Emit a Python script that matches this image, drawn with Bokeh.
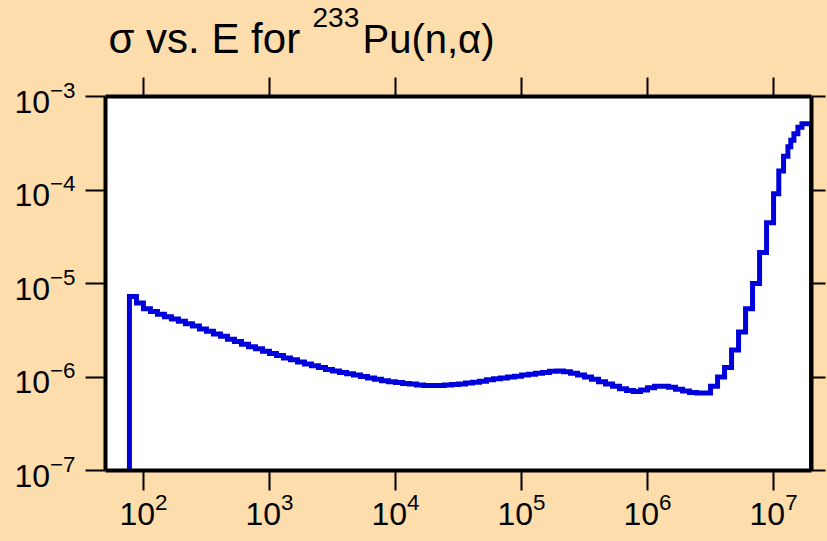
from bokeh.plotting import figure
from bokeh.models import LogAxis, Range1d, ColumnDataSource
from bokeh.layouts import column
from bokeh.embed import file_html
from bokeh.resources import INLINE

# energy bin edges (eV)
energy_edges = [
    77.43, 87.99,
    100.0, 113.65, 129.15, 146.78, 166.81, 189.57, 215.44, 244.84, 278.26,
    316.23, 359.38, 408.42, 464.16, 527.49, 599.48, 681.29, 774.26, 879.92,
    1000.0, 1136.5, 1291.5, 1467.8, 1668.1, 1895.7, 2154.4, 2448.4, 2782.6,
    3162.3, 3593.8, 4084.2, 4641.6, 5274.9, 5994.8, 6812.9, 7742.6, 8799.2,
    1.0e4, 1.1365e4, 1.2915e4, 1.4678e4, 1.6681e4, 1.8957e4, 2.1544e4, 2.4484e4, 2.7826e4,
    3.1623e4, 3.5938e4, 4.0842e4, 4.6416e4, 5.2749e4, 5.9948e4, 6.8129e4, 7.7426e4, 8.7992e4,
    1.0e5, 1.1365e5, 1.2915e5, 1.4678e5, 1.6681e5, 1.8957e5, 2.1544e5, 2.4484e5, 2.7826e5,
    3.1623e5, 3.5938e5, 4.0842e5, 4.6416e5, 5.2749e5, 5.9948e5, 6.8129e5, 7.7426e5, 8.7992e5,
    1.0e6, 1.1365e6, 1.2915e6, 1.4678e6, 1.6681e6, 1.8957e6, 2.1544e6, 2.4484e6, 2.7826e6,
    3.1623e6, 3.5938e6, 4.0842e6, 4.6416e6, 5.2749e6, 5.9948e6, 6.8129e6, 7.7426e6, 8.7992e6,
    1.0e7, 1.1e7, 1.2e7, 1.3e7, 1.37e7, 1.45e7, 1.56e7, 1.68e7, 2.0e7,
]

# cross section per bin (b)
sigma = [
    7.24e-6, 6.17e-6, 5.37e-6, 5.01e-6, 4.68e-6, 4.42e-6, 4.17e-6, 3.94e-6, 3.72e-6, 3.51e-6,
    3.27e-6, 3.09e-6, 2.88e-6, 2.72e-6, 2.54e-6, 2.40e-6, 2.24e-6, 2.11e-6, 2.00e-6, 1.88e-6,
    1.78e-6, 1.70e-6, 1.60e-6, 1.53e-6, 1.45e-6, 1.38e-6, 1.32e-6, 1.26e-6, 1.20e-6, 1.16e-6,
    1.12e-6, 1.08e-6, 1.05e-6, 1.01e-6, 9.77e-7, 9.44e-7, 9.12e-7, 8.91e-7, 8.71e-7, 8.51e-7,
    8.41e-7, 8.22e-7, 8.13e-7, 8.13e-7, 8.13e-7, 8.22e-7, 8.32e-7, 8.41e-7, 8.61e-7, 8.81e-7,
    9.02e-7, 9.33e-7, 9.55e-7, 9.77e-7, 1.00e-6, 1.02e-6, 1.05e-6, 1.07e-6, 1.10e-6, 1.12e-6,
    1.15e-6, 1.16e-6, 1.14e-6, 1.10e-6, 1.05e-6, 1.00e-6, 9.44e-7, 8.91e-7, 8.41e-7, 7.94e-7,
    7.50e-7, 7.16e-7, 7.00e-7, 7.24e-7, 7.67e-7, 7.94e-7, 7.94e-7, 7.76e-7, 7.41e-7, 7.08e-7,
    6.84e-7, 6.76e-7, 6.76e-7, 7.94e-7, 1.00e-6, 1.26e-6, 1.95e-6, 3.02e-6, 5.37e-6, 1.00e-5,
    2.14e-5, 4.47e-5, 9.1e-5, 1.6e-4, 2.3e-4, 2.9e-4, 3.4e-4, 4.0e-4, 4.7e-4, 5.1e-4,
]

x_limits = [50, 2e7]
y_limits = [1e-7, 1e-3]

# title pieces: main text, superscript mass number, reaction
title_pieces = ["σ vs. E for", "233", "Pu(n,α)"]

PEACH = "#fcddab"
BLUE = "#0000dd"
FONT = "Liberation Sans"
W, H = 827, 541
TITLE_H = 74
LEFT, RIGHT = 105, 16

# --- title strip (pixel-like coordinates) ---
t = figure(width=W, height=TITLE_H, x_range=Range1d(LEFT, W - RIGHT), y_range=Range1d(TITLE_H, 0),
           output_backend="svg", toolbar_location=None,
           x_axis_location=None, y_axis_location=None,
           min_border_left=LEFT, min_border_right=RIGHT,
           min_border_top=0, min_border_bottom=0,
           background_fill_color=PEACH, border_fill_color=PEACH, outline_line_color=None)
t.title = None
t.grid.visible = False
title_src = ColumnDataSource(dict(
    text=title_pieces,
    x=[108, 312, 362],
    y=[38, 17, 38],
    size=["42px", "28px", "40px"],
))
t.text(x="x", y="y", text="text", source=title_src, text_font_size="size",
       text_font={"value": FONT}, text_color="black",
       text_align="left", text_baseline="alphabetic")

# --- main chart ---
p = figure(width=W, height=H - TITLE_H, x_axis_type="log", y_axis_type="log",
           x_range=Range1d(*x_limits), y_range=Range1d(*y_limits),
           output_backend="svg", toolbar_location=None,
           min_border_left=LEFT, min_border_right=RIGHT, min_border_top=96 - TITLE_H,
           min_border_bottom=71,
           background_fill_color="white", border_fill_color=PEACH,
           outline_line_color=None)
p.title = None
p.grid.visible = False

# staircase path built from the bin data
floor = y_limits[0] / 10
xs = [energy_edges[0]]
ys = [floor]
for i, v in enumerate(sigma):
    xs += [energy_edges[i], energy_edges[i + 1]]
    ys += [v, v]
xs.append(energy_edges[-1])
ys.append(floor)
p.line(xs, ys, line_color=BLUE, line_width=5, line_join="miter", line_cap="butt")

p.add_layout(LogAxis(), "above")
p.add_layout(LogAxis(), "right")

for ax in p.axis:
    ax.axis_line_width = 4
    ax.axis_line_color = "black"
    ax.major_tick_out = 20
    ax.major_tick_in = 0
    ax.major_tick_line_width = 2
    ax.major_tick_line_color = "black"
    ax.minor_tick_out = 0
    ax.minor_tick_in = 0
    ax.major_label_text_font = FONT
    ax.major_label_text_font_size = "32px"
    ax.major_label_text_color = "black"

for ax in (p.above[0], p.right[0]):
    ax.major_label_text_font_size = "1px"
    ax.major_label_text_color = None
    ax.major_label_standoff = 0
p.above[0].major_tick_out = 19
p.right[0].major_tick_out = 14
p.left[0].major_label_standoff = 10
p.below[0].major_label_standoff = 2

layout = column(t, p, spacing=0)

html = file_html(layout, INLINE)
html = html.replace("</head>", "<style>html,body{background:%s;}</style></head>" % PEACH, 1)
open("out.html", "w").write(html)
